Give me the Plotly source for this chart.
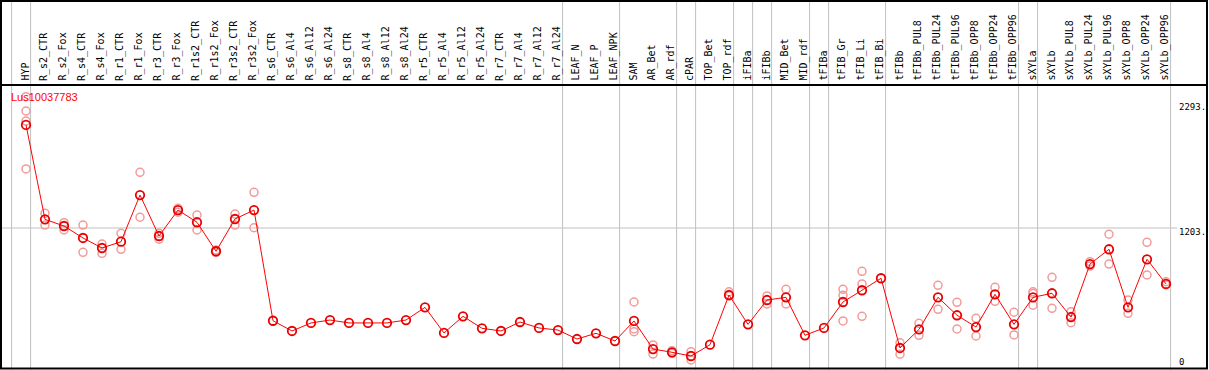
import plotly.graph_objects as go

categories = ["HYP", "R_s2_CTR", "R_s2_Fox", "R_s4_CTR", "R_s4_Fox", "R_r1_CTR", "R_r1_Fox",
              "R_r3_CTR", "R_r3_Fox", "R_r1s2_CTR", "R_r1s2_Fox", "R_r3s2_CTR", "R_r3s2_Fox",
              "R_s6_CTR", "R_s6_Al4", "R_s6_Al12", "R_s6_Al24", "R_s8_CTR", "R_s8_Al4", "R_s8_Al12",
              "R_s8_Al24", "R_r5_CTR", "R_r5_Al4", "R_r5_Al12", "R_r5_Al24", "R_r7_CTR", "R_r7_Al4",
              "R_r7_Al12", "R_r7_Al24", "LEAF_N", "LEAF_P", "LEAF_NPK", "SAM", "AR_Bet", "AR_rdf",
              "cPAR", "TOP_Bet", "TOP_rdf", "iFIBa", "iFIBb", "MID_Bet", "MID_rdf", "tFIBa",
              "tFIB_Gr", "tFIB_Li", "tFIB_Bi", "tFIBb", "tFIBb_PUL8", "tFIBb_PUL24", "tFIBb_PUL96",
              "tFIBb_OPP8", "tFIBb_OPP24", "tFIBb_OPP96", "sXYLa", "sXYLb", "sXYLb_PUL8",
              "sXYLb_PUL24", "sXYLb_PUL96", "sXYLb_OPP8", "sXYLb_OPP24", "sXYLb_OPP96"]

mean_values = [2088, 1277, 1220, 1117, 1031, 1085, 1486, 1134, 1357, 1252, 1003, 1280, 1357,
               406, 318, 387, 412, 387, 387, 387, 412, 521, 301, 444, 341, 318, 395, 344, 326,
               249, 298, 232, 404, 163, 135, 103, 200, 627, 375, 584, 607, 281, 344,
               567, 668, 771, 172, 332, 607, 453, 352, 633, 375, 607, 642, 438, 893, 1020,
               521, 934, 722]

replicates = [[2331, 2208, 2122, 1710], [1329, 1228], [1248, 1186], [1228, 994], [1065, 985],
              [1157, 1020], [1681, 1295], [1157, 1106], [1372, 1338], [1314, 1186], [1014, 994],
              [1323, 1228], [1509, 1205],
              [], [], [], [], [], [], [], [], [], [], [], [], [], [], [], [],
              [], [], [], [567, 335, 312], [198, 120], [149, 126], [140, 69], [], [655, 619], [],
              [619, 550], [676, 550], [], [], [676, 625, 404], [831, 722, 444], [], [217, 118],
              [384, 281], [710, 504], [564, 335], [427, 275], [693, 573], [479, 284],
              [655, 641, 539], [779, 513], [484, 389], [913, 876], [1149, 893], [584, 470],
              [1080, 799], [741, 713]]

gene_id = "Lus10037783"
separators_after = ["", "HYP", "R_r7_Al24", "LEAF_NPK", "AR_rdf", "cPAR", "TOP_rdf", "iFIBa",
                    "iFIBb", "MID_rdf", "tFIBa", "tFIB_Bi", "tFIBb_OPP96", "sXYLa", "sXYLb_OPP96"]
axis_ticks = [("2293.", 2293), ("1203.", 1203), ("0", 0)]

W, H = 1209, 370
X0, DX = 26.0, 19.0
Y0, SY = 368.0, 0.1164


def px2x(p):
    return (p - X0) / DX


def py2y(p):
    return (Y0 - p) / SY


idx = list(range(len(categories)))

rx, ry = [], []
for i, reps in enumerate(replicates):
    for v in reps:
        rx.append(i)
        ry.append(v)

fig = go.Figure()
fig.add_trace(go.Scatter(x=rx, y=ry, mode="markers", hoverinfo="skip",
                         marker=dict(symbol="circle-open", size=8, color="#f29a9a",
                                     line=dict(width=1.5, color="#f29a9a"))))
fig.add_trace(go.Scatter(x=idx, y=mean_values, mode="lines+markers",
                         line=dict(color="#ff0000", width=1),
                         marker=dict(symbol="circle-open", size=8.5, color="#e80000",
                                     line=dict(width=1.8, color="#e80000"))))

shapes = []
for name in separators_after:
    i = categories.index(name) if name else -1
    xs = i + 4.6 / DX
    shapes.append(dict(type="line", xref="x", yref="paper", x0=xs, x1=xs, y0=0, y1=1,
                       line=dict(color="#c0c0c0", width=1), layer="below"))
shapes.append(dict(type="line", xref="x", yref="y", x0=px2x(1), x1=px2x(1177), y0=1203, y1=1203,
                   line=dict(color="#c0c0c0", width=1), layer="below"))
blk = dict(color="black", width=2)
shapes.append(dict(type="line", xref="x", yref="y", x0=px2x(1), x1=px2x(1), y0=py2y(0), y1=py2y(369), line=blk))
shapes.append(dict(type="line", xref="x", yref="y", x0=px2x(1207), x1=px2x(1207), y0=py2y(0), y1=py2y(369), line=blk))
shapes.append(dict(type="line", xref="x", yref="y", x0=px2x(0), x1=px2x(1208), y0=py2y(1), y1=py2y(1), line=blk))
shapes.append(dict(type="line", xref="x", yref="y", x0=px2x(0), x1=px2x(1208), y0=py2y(85), y1=py2y(85), line=blk))
shapes.append(dict(type="line", xref="x", yref="y", x0=px2x(0), x1=px2x(1208), y0=py2y(368.5), y1=py2y(368.5), line=blk))

annotations = []
for i, name in enumerate(categories):
    annotations.append(dict(x=i - 1.5 / DX, y=py2y(83), xref="x", yref="y", text=name,
                            textangle=-90, showarrow=False, xanchor="center", yanchor="bottom",
                            font=dict(family="DejaVu Sans Mono", size=10, color="black")))
annotations.append(dict(x=px2x(9), y=py2y(97), xref="x", yref="y", text=gene_id, showarrow=False,
                        xanchor="left", yanchor="middle",
                        font=dict(family="Liberation Sans", size=11, color="#ff0000")))
label_pos = {"2293.": 107, "1203.": 232, "0": 362}
for txt, v in axis_ticks:
    annotations.append(dict(x=px2x(1177), y=py2y(label_pos[txt]), xref="x", yref="y", text=txt,
                            showarrow=False, xanchor="left", yanchor="middle",
                            font=dict(family="DejaVu Sans Mono", size=9, color="black")))

fig.update_layout(
    width=W, height=H, margin=dict(l=0, r=0, t=0, b=0, pad=0),
    paper_bgcolor="white", plot_bgcolor="white", showlegend=False,
    xaxis=dict(range=[px2x(0), px2x(W)], visible=False, fixedrange=True),
    yaxis=dict(range=[py2y(H), py2y(0)], visible=False, fixedrange=True),
    shapes=shapes, annotations=annotations,
)

fig.write_html("out.html", config={"displayModeBar": False},
               post_script="document.body.style.margin='0';document.body.style.overflow='hidden';")
